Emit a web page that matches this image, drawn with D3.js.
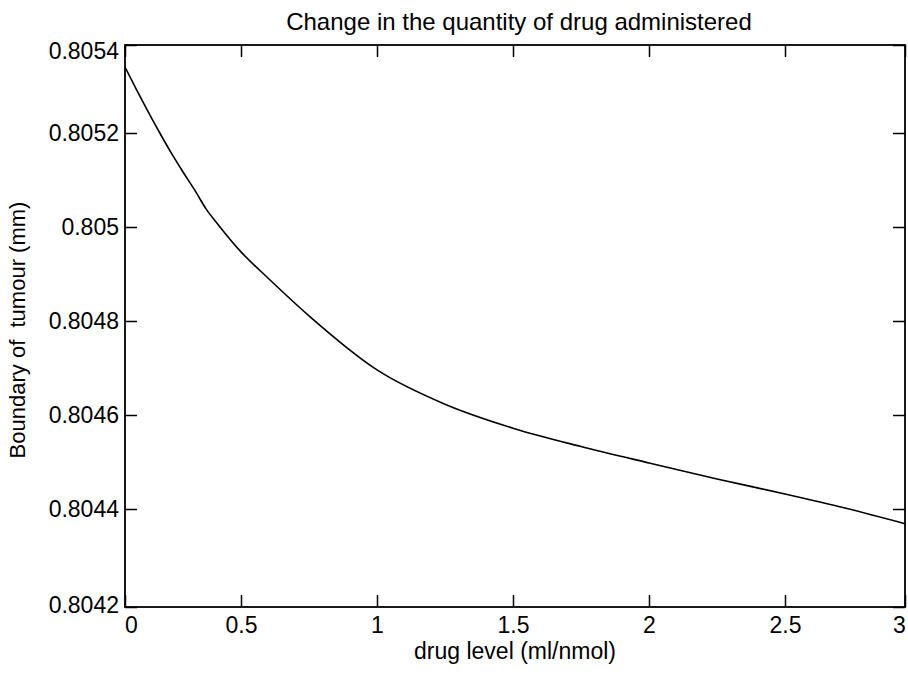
<!DOCTYPE html>
<html>
<head>
<meta charset="utf-8">
<script src="https://cdn.jsdelivr.net/npm/d3@7"></script>
<style>
  body { margin: 0; background: #fff; }
  text { font-family: "Liberation Sans", Arial, sans-serif; fill: #000; }
</style>
</head>
<body>
<svg id="chart" width="908" height="675"></svg>
<script>
// values
const drugLevel = [0, 0.05, 0.1, 0.15, 0.2, 0.25, 0.3, 0.35, 0.4, 0.5, 0.6, 0.75,
  1, 1.25, 1.5, 1.75, 2, 2.25, 2.5, 2.75, 3];
const boundary = [0.80535, 0.805298, 0.805248, 0.8052, 0.805157, 0.805117, 0.805079, 0.805038, 0.805006, 0.804947,
  0.804891, 0.804811, 0.804696, 0.804623, 0.804572, 0.804533, 0.804498, 0.804464, 0.804432, 0.804402, 0.804370];
const xTickValues = [0, 0.5, 1, 1.5, 2, 2.5, 3];
const xTickLabels = ['0', '0.5', '1', '1.5', '2', '2.5', '3'];
const yTickValues = [0.8042, 0.8044, 0.8046, 0.8048, 0.805, 0.8052, 0.8054];
const yTickLabels = ['0.8042', '0.8044', '0.8046', '0.8048', '0.805', '0.8052', '0.8054'];

const title = 'Change in the quantity of drug administered';
const xLabel = 'drug level (ml/nmol)';
const yLabel = 'Boundary of  tumour (mm)';

const svg = d3.select('#chart');
const plotLeft = 125, plotRight = 905, plotTop = 45, plotBottom = 607;
const fontSize = 23;

// the frame of the reference is slightly stretched at the edges, so the scales are piecewise
const xScale = d3.scaleLinear().domain([0, 0.5, 2.5, 3]).range([plotLeft, 241, 785, plotRight]);
const yScale = d3.scaleLinear().domain([0.8042, 0.8044, 0.8052, 0.8054]).range([plotBottom, 509, 133, plotTop]);

const xFmt = (d) => xTickLabels[xTickValues.indexOf(d)];
const yFmt = (d) => yTickLabels[yTickValues.indexOf(d)];

const xAxisG = svg.append('g')
  .attr('transform', `translate(0,${plotBottom})`)
  .call(d3.axisBottom(xScale).tickValues(xTickValues).tickFormat(xFmt)
    .tickSizeInner(-12).tickSizeOuter(0).tickPadding(10));
const yAxisG = svg.append('g')
  .attr('transform', `translate(${plotLeft},0)`)
  .call(d3.axisLeft(yScale).tickValues(yTickValues).tickFormat(yFmt)
    .tickSizeInner(-12).tickSizeOuter(0).tickPadding(6));
svg.append('g')
  .attr('transform', `translate(0,${plotTop})`)
  .call(d3.axisTop(xScale).tickValues(xTickValues).tickFormat('')
    .tickSizeInner(-12).tickSizeOuter(0));
svg.append('g')
  .attr('transform', `translate(${plotRight},0)`)
  .call(d3.axisRight(yScale).tickValues(yTickValues).tickFormat('')
    .tickSizeInner(-12).tickSizeOuter(0));

svg.selectAll('.domain').remove();
svg.selectAll('.tick line').attr('stroke', '#000').attr('stroke-width', 1.5);
svg.selectAll('.tick text')
  .style('font-size', fontSize + 'px')
  .style('font-family', '"Liberation Sans", Arial, sans-serif')
  .attr('fill', '#000');

// edge labels sit a little inside the frame
xAxisG.selectAll('.tick text').attr('dx', (d) => (d === 0 ? 6 : d === 3 ? -6 : 0));
yAxisG.selectAll('.tick text').attr('dy', (d) => (d === 0.8054 ? '0.58em' : d === 0.8042 ? '0.24em' : '0.32em'));

svg.append('rect')
  .attr('x', plotLeft)
  .attr('y', plotTop)
  .attr('width', plotRight - plotLeft)
  .attr('height', plotBottom - plotTop)
  .attr('fill', 'none')
  .attr('stroke', '#000')
  .attr('stroke-width', 1.8);

const points = drugLevel.map((d, i) => [d, boundary[i]]);
const line = d3.line()
  .x((d) => xScale(d[0]))
  .y((d) => yScale(d[1]))
  .curve(d3.curveMonotoneX);

svg.append('path')
  .datum(points)
  .attr('d', line)
  .attr('fill', 'none')
  .attr('stroke', '#000')
  .attr('stroke-width', 1.6);

svg.append('text')
  .attr('x', 519)
  .attr('y', 30)
  .attr('text-anchor', 'middle')
  .style('font-size', '24px')
  .text(title);

svg.append('text')
  .attr('x', 515)
  .attr('y', 659)
  .attr('text-anchor', 'middle')
  .style('font-size', '23px')
  .text(xLabel);

svg.append('text')
  .attr('transform', 'translate(25,330) rotate(-90)')
  .attr('text-anchor', 'middle')
  .style('font-size', '22px')
  .style('white-space', 'pre')
  .text(yLabel);
</script>
</body>
</html>
